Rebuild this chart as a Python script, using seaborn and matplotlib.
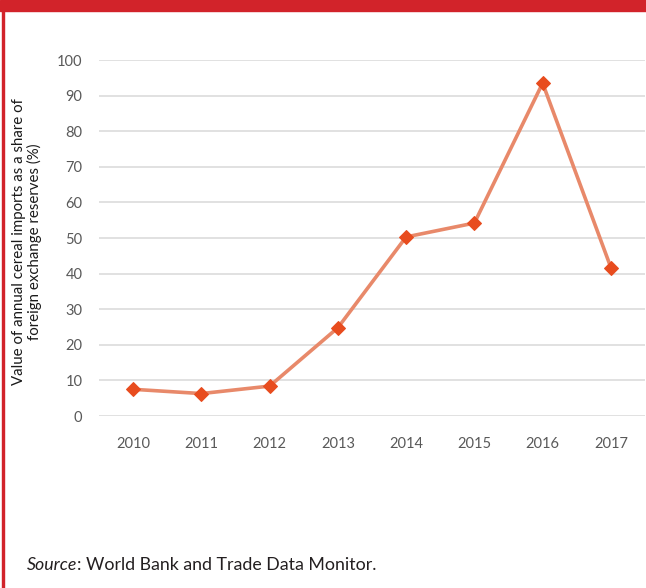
import matplotlib
matplotlib.use("Agg")
import matplotlib.pyplot as plt
import seaborn as sns
import pandas as pd
from matplotlib.patches import Rectangle

years = [2010, 2011, 2012, 2013, 2014, 2015, 2016, 2017]
share = [7.5, 6.3, 8.4, 24.8, 50.3, 54.2, 93.5, 41.7]
yticks = [0, 10, 20, 30, 40, 50, 60, 70, 80, 90, 100]
ylabel = "Value of annual cereal imports as a share of\nforeign exchange reserves (%)"
source_italic = "Source"
source_rest = ": World Bank and Trade Data Monitor."

df = pd.DataFrame({"year": years, "share": share})

sns.set_theme(style="white")
plt.rcParams['font.family'] = ['Lato', 'DejaVu Sans']

W, H = 646, 588
fig = plt.figure(figsize=(W / 100, H / 100), dpi=100)
ax = fig.add_axes([99 / W, (H - 416) / H, (645 - 99) / W, (416 - 60) / H])

sns.lineplot(data=df, x="year", y="share", ax=ax, color="#e8896a", linewidth=2.6,
             marker="D", markersize=7.5, markerfacecolor="#e84c1e",
             markeredgecolor="#e84c1e")

ax.set_xlim(2009.5, 2017.5)
ax.set_ylim(0, 100)
ax.set_yticks(yticks)
ax.set_xticks(years)
ax.set_xticklabels([str(y) for y in years])
ax.yaxis.grid(True, color="#d9d9d9", linewidth=1.1)
ax.set_axisbelow(True)
for s in ax.spines.values():
    s.set_visible(False)
ax.tick_params(axis="both", length=0, labelsize=10.5, labelcolor="#595959")
ax.tick_params(axis="y", pad=12)
ax.tick_params(axis="x", pad=15)
ax.set_xlabel("")
ax.set_ylabel("")

fig.text(27 / W, 1 - 242 / H, ylabel, rotation=90, ha="center", va="center",
         fontsize=10.8, color="#1a1a1a", linespacing=1.1)

# decorative frame
fig.patches.append(Rectangle((0, 1 - 11 / H), 1, 11 / H, transform=fig.transFigure,
                             color="#d2232a", zorder=5))
fig.patches.append(Rectangle((2 / W, 0), 2 / W, 1 - 11 / H, transform=fig.transFigure,
                             color="#d2232a", zorder=5))

t1 = fig.text(27 / W, 1 - 565 / H, source_italic, style="italic", fontsize=12.8,
              color="#231f20", va="center", ha="left")
fig.canvas.draw()
bb = t1.get_window_extent()
fig.text(bb.x1 / W, 1 - 565 / H, source_rest, fontsize=12.8, color="#231f20",
         va="center", ha="left")

fig.savefig("out.png", dpi=100)
